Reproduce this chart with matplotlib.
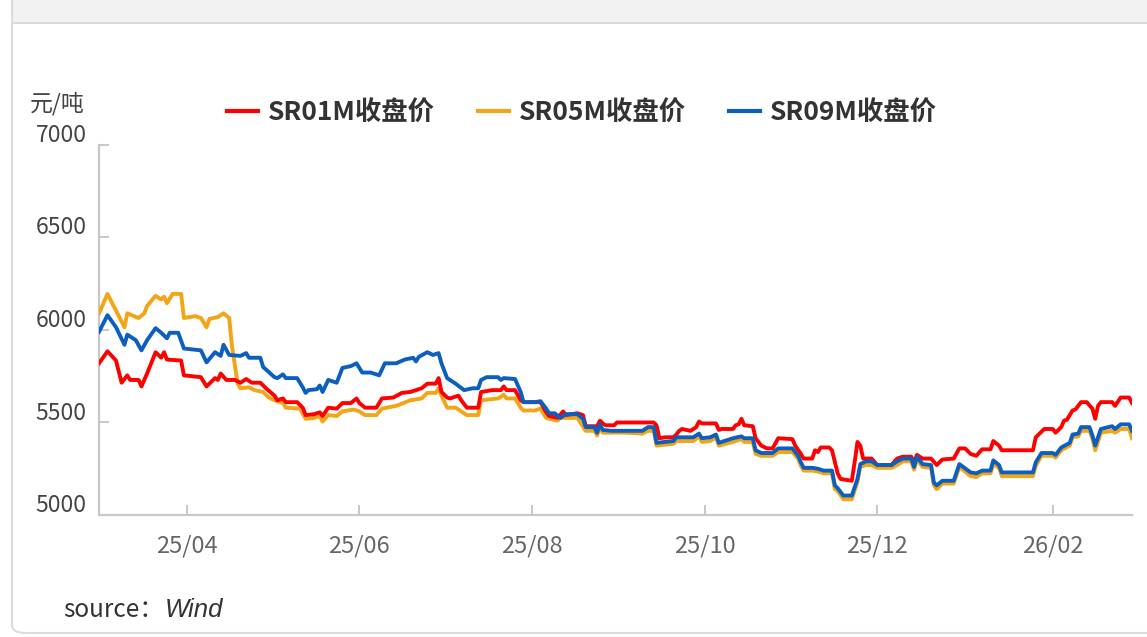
import pandas as pd
import matplotlib
matplotlib.use("Agg")
import matplotlib.pyplot as plt
import matplotlib.dates as mdates
from matplotlib.transforms import ScaledTranslation
from matplotlib.patches import Rectangle, FancyBboxPatch

plt.rcParams['font.family'] = ['Noto Sans CJK SC', 'DejaVu Sans']

# data (days counted from 2025-03-01, price in 元/吨)
start = pd.Timestamp("2025-03-01")

sr01_day = [0, 3, 6, 8, 10, 11, 14, 15, 17, 20, 22, 23, 24, 29, 30, 36, 38, 41, 42, 43,
            45, 48, 50, 52, 54, 57, 59, 62, 63, 65, 66, 70, 72, 73, 76, 78, 79, 81, 84, 86,
            89, 91, 92, 94, 98, 100, 104, 107, 110, 112, 114, 116, 119, 120, 121, 123, 124, 127, 128, 130,
            134, 135, 139, 142, 143, 144, 147, 149, 150, 156, 158, 159, 162, 164, 165, 169, 171, 172, 176, 177,
            178, 179, 182, 183, 186, 196, 197, 198, 200, 203, 204, 205, 206, 209, 211, 212, 213, 218, 219, 220,
            224, 225, 226, 227, 228, 231, 232, 234, 236, 238, 240, 245, 246, 248, 249, 252, 253, 254, 255, 258,
            259, 261, 262, 266, 267, 268, 269, 270, 273, 275, 280, 282, 284, 287, 288, 289, 291, 294, 296, 298,
            302, 304, 306, 308, 310, 312, 315, 316, 318, 319, 330, 331, 334, 337, 338, 340, 341, 342, 344, 345,
            347, 349, 351, 352, 353, 354, 358, 359, 361, 364, 365]
sr01 = [5820, 5885, 5835, 5715, 5755, 5730, 5730, 5695, 5765, 5880, 5850, 5880, 5840, 5835, 5755, 5745, 5695, 5740, 5730, 5765,
        5730, 5730, 5715, 5735, 5715, 5715, 5685, 5645, 5620, 5630, 5610, 5610, 5580, 5540, 5545, 5555, 5535, 5580, 5575, 5605,
        5605, 5630, 5605, 5580, 5580, 5630, 5635, 5660, 5665, 5675, 5685, 5710, 5710, 5740, 5665, 5635, 5630, 5645, 5620, 5580,
        5580, 5665, 5675, 5675, 5695, 5675, 5675, 5620, 5610, 5610, 5555, 5535, 5525, 5560, 5540, 5550, 5540, 5480, 5480, 5510,
        5495, 5485, 5485, 5500, 5500, 5500, 5485, 5415, 5420, 5420, 5435, 5455, 5465, 5455, 5475, 5505, 5495, 5495, 5460, 5465,
        5465, 5485, 5490, 5520, 5485, 5480, 5415, 5375, 5360, 5360, 5415, 5410, 5375, 5330, 5305, 5305, 5350, 5340, 5365, 5365,
        5350, 5225, 5195, 5185, 5285, 5395, 5375, 5305, 5305, 5270, 5270, 5305, 5315, 5315, 5285, 5325, 5305, 5305, 5270, 5300,
        5305, 5360, 5360, 5330, 5320, 5355, 5355, 5400, 5375, 5350, 5350, 5420, 5465, 5465, 5445, 5475, 5510, 5515, 5565, 5570,
        5610, 5610, 5575, 5520, 5590, 5610, 5610, 5590, 5635, 5635, 5605]

sr05_day = [0, 3, 9, 10, 14, 16, 17, 20, 22, 23, 24, 26, 29, 30, 34, 36, 38, 39, 42, 44,
            46, 47, 49, 50, 53, 55, 58, 60, 62, 65, 66, 71, 73, 76, 78, 79, 81, 84, 86, 90,
            92, 94, 98, 100, 105, 110, 114, 116, 119, 120, 121, 123, 126, 130, 134, 135, 141, 143, 144, 147,
            149, 150, 154, 156, 158, 159, 162, 163, 169, 172, 175, 176, 177, 178, 181, 186, 192, 194, 196, 197,
            203, 204, 206, 210, 212, 213, 216, 218, 219, 224, 227, 228, 231, 232, 234, 238, 240, 245, 247, 248,
            249, 252, 254, 256, 259, 260, 261, 263, 266, 268, 269, 271, 273, 275, 280, 282, 284, 287, 288, 289,
            291, 294, 295, 296, 298, 302, 304, 308, 310, 312, 315, 316, 318, 319, 330, 331, 333, 337, 338, 340,
            343, 344, 346, 347, 350, 351, 352, 354, 358, 359, 361, 364, 365]
sr05 = [6090, 6195, 6015, 6090, 6065, 6090, 6130, 6185, 6165, 6180, 6145, 6195, 6195, 6065, 6075, 6065, 6015, 6060, 6070, 6090,
        6065, 5910, 5710, 5685, 5690, 5675, 5665, 5635, 5620, 5605, 5580, 5575, 5520, 5525, 5535, 5505, 5540, 5535, 5560, 5570,
        5560, 5540, 5540, 5575, 5590, 5620, 5630, 5660, 5660, 5685, 5645, 5580, 5580, 5540, 5540, 5620, 5630, 5650, 5630, 5630,
        5580, 5565, 5565, 5575, 5525, 5520, 5510, 5525, 5525, 5455, 5455, 5430, 5475, 5445, 5445, 5445, 5440, 5455, 5455, 5375,
        5385, 5400, 5400, 5400, 5425, 5395, 5400, 5420, 5375, 5395, 5410, 5395, 5395, 5330, 5320, 5320, 5340, 5340, 5305, 5265,
        5240, 5240, 5235, 5225, 5225, 5140, 5130, 5085, 5085, 5180, 5260, 5270, 5270, 5255, 5255, 5270, 5290, 5290, 5245, 5300,
        5260, 5255, 5160, 5140, 5170, 5170, 5260, 5210, 5205, 5225, 5225, 5275, 5255, 5210, 5210, 5265, 5320, 5320, 5310, 5350,
        5375, 5420, 5425, 5455, 5455, 5415, 5350, 5445, 5455, 5445, 5465, 5465, 5415]

sr09_day = [0, 3, 6, 9, 10, 13, 15, 17, 20, 22, 24, 25, 28, 30, 36, 38, 41, 43, 44, 46,
            50, 52, 53, 57, 58, 62, 63, 65, 66, 70, 72, 73, 74, 77, 78, 79, 81, 84, 86, 89,
            91, 93, 96, 99, 101, 105, 108, 111, 112, 113, 116, 118, 120, 121, 123, 124, 126, 129, 132, 134,
            135, 137, 141, 142, 143, 147, 149, 150, 154, 156, 158, 159, 161, 163, 165, 169, 171, 172, 175, 176,
            177, 178, 181, 186, 192, 194, 196, 197, 203, 204, 206, 210, 212, 213, 216, 218, 219, 224, 227, 228,
            231, 232, 234, 238, 240, 245, 247, 248, 249, 252, 254, 256, 259, 260, 261, 263, 266, 268, 269, 271,
            273, 275, 280, 282, 284, 287, 288, 289, 291, 294, 295, 296, 298, 302, 304, 308, 310, 312, 315, 316,
            318, 319, 330, 331, 333, 337, 338, 340, 343, 344, 346, 347, 350, 351, 352, 354, 358, 359, 361, 364,
            365]
sr09 = [5990, 6080, 6015, 5920, 5975, 5945, 5890, 5945, 6010, 5985, 5955, 5985, 5985, 5900, 5890, 5825, 5880, 5860, 5920, 5865,
        5860, 5875, 5850, 5850, 5800, 5745, 5740, 5760, 5740, 5740, 5690, 5660, 5675, 5680, 5700, 5665, 5730, 5715, 5795, 5805,
        5820, 5770, 5770, 5755, 5820, 5820, 5840, 5850, 5830, 5855, 5880, 5865, 5875, 5820, 5740, 5730, 5710, 5675, 5685, 5685,
        5730, 5745, 5745, 5730, 5740, 5735, 5665, 5610, 5610, 5615, 5575, 5550, 5550, 5525, 5545, 5545, 5520, 5475, 5475, 5445,
        5490, 5460, 5455, 5455, 5455, 5475, 5475, 5390, 5400, 5420, 5420, 5420, 5440, 5415, 5420, 5435, 5390, 5415, 5425, 5415,
        5415, 5350, 5335, 5335, 5360, 5360, 5320, 5285, 5255, 5255, 5250, 5240, 5240, 5160, 5145, 5105, 5105, 5195, 5275, 5290,
        5290, 5270, 5270, 5290, 5305, 5305, 5260, 5315, 5275, 5270, 5175, 5160, 5185, 5185, 5275, 5230, 5225, 5240, 5240, 5295,
        5270, 5230, 5230, 5285, 5335, 5335, 5325, 5365, 5390, 5435, 5440, 5475, 5475, 5430, 5375, 5465, 5480, 5465, 5490, 5490,
        5455]

labels = ["SR01M收盘价", "SR05M收盘价", "SR09M收盘价"]
colors = ["#ff0000", "#f2a516", "#0c5fbf"]
yticks = [5000, 5500, 6000, 6500, 7000]


def to_dates(days):
    return start + pd.to_timedelta(days, unit="D")


fig = plt.figure(figsize=(11.47, 6.37), dpi=100)

# screenshot frame: gray top bar and light border
fig.patches.append(Rectangle((12 / 1147, 1 - 22 / 637), 1, 22 / 637, transform=fig.transFigure,
                             facecolor="#f2f2f2", edgecolor="none", zorder=0))
fig.patches.append(FancyBboxPatch((12 / 1147, 4 / 637), 1.2, 1.2,
                                  boxstyle="round,pad=0,rounding_size=0.012",
                                  transform=fig.transFigure, facecolor="none",
                                  edgecolor="#dcdcdc", linewidth=1.5, zorder=1))
fig.patches.append(Rectangle((12 / 1147, 1 - 24 / 637), 1, 2.5 / 637, transform=fig.transFigure,
                             facecolor="#dadada", edgecolor="none", zorder=2))

ax = fig.add_axes([99 / 1147, (637 - 515) / 637, (1132 - 99) / 1147, (515 - 145) / 637])

ax.plot(to_dates(sr05_day), sr05, color=colors[1], lw=2.8, label=labels[1], solid_joinstyle="round", zorder=3)
ax.plot(to_dates(sr01_day), sr01, color=colors[0], lw=2.8, label=labels[0], solid_joinstyle="round", zorder=4)
ax.plot(to_dates(sr09_day), sr09, color=colors[2], lw=2.8, label=labels[2], solid_joinstyle="round", zorder=5)

ax.set_xlim(start, start + pd.Timedelta(days=365))
ax.set_ylim(5000, 7000)
ax.set_yticks(yticks)
ax.xaxis.set_major_locator(mdates.MonthLocator(bymonth=[2, 4, 6, 8, 10, 12]))
ax.xaxis.set_major_formatter(mdates.DateFormatter("%y/%m"))

for side in ["top", "right"]:
    ax.spines[side].set_visible(False)
for side in ["left", "bottom"]:
    ax.spines[side].set_color("#c8c8c8")
    ax.spines[side].set_linewidth(1.6)

ax.tick_params(axis="both", direction="in", length=7, width=1.4, color="#c8c8c8")
ax.tick_params(axis="y", labelsize=16.5, labelcolor="#444444", pad=9)
ax.tick_params(axis="x", labelsize=17, labelcolor="#666666", pad=14)

# y labels sit above their tick
for lab in ax.get_yticklabels():
    lab.set_transform(lab.get_transform() + ScaledTranslation(0, 12 / 100, fig.dpi_scale_trans))

handles, labs = ax.get_legend_handles_labels()
order = [1, 0, 2]
leg = ax.legend([handles[i] for i in order], [labs[i] for i in order],
                loc="center", bbox_to_anchor=(582 / 1147, 1 - 113 / 637), bbox_transform=fig.transFigure,
                ncol=3, frameon=False, handlelength=1.15, handletextpad=0.38, columnspacing=1.65,
                prop={"size": 19, "weight": "bold"}, labelcolor="#333333")
for line in leg.get_lines():
    line.set_linewidth(3)

fig.text(30 / 1147, 1 - 104 / 637, "元/吨", fontsize=16.5, color="#444444", va="center", ha="left")
fig.text(63 / 1147, 1 - 610 / 637, "source：", fontsize=17.5, color="#333333", va="center", ha="left")
fig.text(165 / 1147, 1 - 610 / 637, "Wind", fontsize=18.5, color="#333333", va="center", ha="left",
         family="Liberation Sans", style="italic")

fig.savefig("out.png", dpi=100)
